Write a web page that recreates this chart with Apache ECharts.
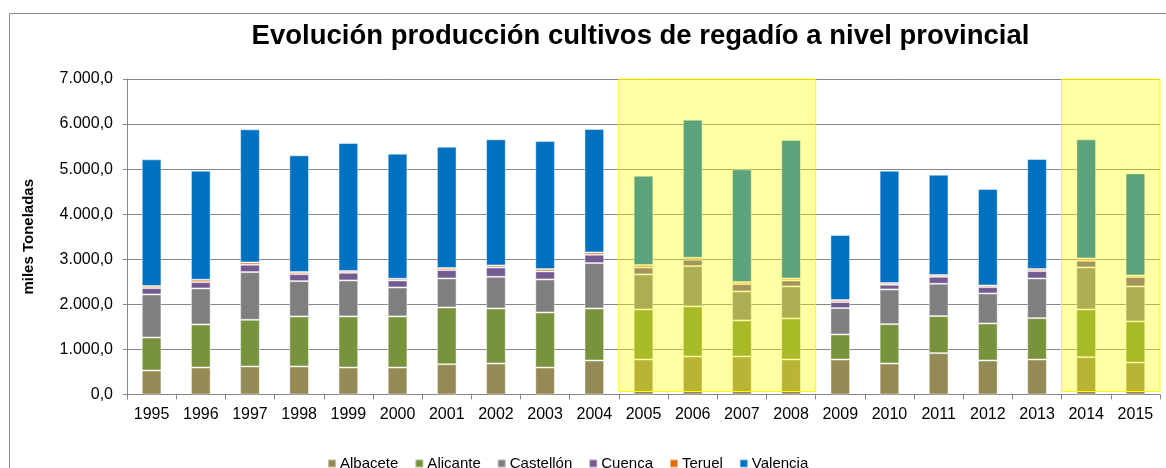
<!DOCTYPE html>
<html>
<head>
<meta charset="utf-8">
<script src="https://cdn.jsdelivr.net/npm/echarts@6/dist/echarts.min.js"></script>
<style>
  html, body { margin: 0; padding: 0; background: #ffffff; }
  #chart { width: 1166px; height: 468px; }
</style>
</head>
<body>
<div id="chart"></div>
<script>
// Years on the category axis
const years = ['1995','1996','1997','1998','1999','2000','2001','2002','2003','2004',
               '2005','2006','2007','2008','2009','2010','2011','2012','2013','2014','2015'];

// Production per province (miles de toneladas)
const albacete  = [533, 599, 622, 622, 599, 599, 673, 688, 599, 755, 777, 844, 844, 777, 777, 688, 918, 755, 777, 829, 710];
const alicante  = [732, 955, 1036, 1110, 1133, 1133, 1258, 1221, 1221, 1154, 1110, 1110, 799, 910, 555, 873, 821, 821, 918, 1058, 911];
const castellon = [955, 799, 1058, 784, 799, 643, 644, 703, 733, 1007, 777, 895, 644, 711, 585, 770, 718, 666, 880, 932, 777];
const cuenca    = [141, 141, 163, 155, 170, 156, 185, 207, 178, 185, 155, 141, 162, 133, 133, 104, 155, 141, 163, 148, 207];
const teruel    = [44, 52, 51, 45, 37, 37, 45, 45, 51, 51, 52, 44, 45, 44, 44, 37, 37, 37, 44, 52, 37];
const valencia  = [2812, 2419, 2953, 2590, 2842, 2775, 2693, 2797, 2842, 2738, 1983, 3064, 2501, 3071, 1443, 2493, 2228, 2138, 2442, 2642, 2264];

// Value axis ticks
const yTicks = [0, 1000, 2000, 3000, 4000, 5000, 6000, 7000];

// Highlighted periods (first year, last year)
const highlights = [['2005', '2008'], ['2014', '2015']];

const seriesNames  = ['Albacete', 'Alicante', 'Castellón', 'Cuenca', 'Teruel', 'Valencia'];
const seriesData   = [albacete, alicante, castellon, cuenca, teruel, valencia];
const seriesColors = ['#948A54', '#77933C', '#7F7F7F', '#735A91', '#E46C0A', '#0070C0'];

const FONT = "'Liberation Sans', Arial, sans-serif";
const yMin = yTicks[0];
const yMax = yTicks[yTicks.length - 1];
const yStep = yTicks[1] - yTicks[0];

// Spanish number format: 7.000,0
function fmtEs(v) {
  const fixed = v.toFixed(1).split('.');
  const int = fixed[0].replace(/\B(?=(\d{3})+(?!\d))/g, '.');
  return int + ',' + fixed[1];
}

const barSeries = seriesNames.map((name, i) => ({
  name: name,
  type: 'bar',
  stack: 'total',
  barWidth: '40%',
  data: seriesData[i],
  itemStyle: {
    color: seriesColors[i],
    borderColor: 'rgba(255,255,255,0.45)',
    borderWidth: 1
  },
  emphasis: { disabled: true },
  z: 2
}));

// Translucent yellow panels laid over the highlighted years
const highlightSeries = {
  type: 'custom',
  name: 'highlight',
  silent: true,
  z: 10,
  encode: { x: [0, 1] },
  data: highlights,
  renderItem: function (params, api) {
    const band = api.size([1, 0])[0];
    const p0 = api.coord([api.value(0), yMax]);
    const p1 = api.coord([api.value(1), yMin]);
    const x = p0[0] - band / 2;
    const w = p1[0] - p0[0] + band;
    const y = p0[1];
    const h = p1[1] - p0[1] - 3;
    return {
      type: 'rect',
      shape: { x: x, y: y, width: w, height: h },
      style: {
        fill: 'rgba(255,255,0,0.36)',
        stroke: '#FFFF00',
        lineWidth: 1
      }
    };
  }
};

const chart = echarts.init(document.getElementById('chart'), null, { renderer: 'canvas' });

chart.setOption({
  animation: false,
  backgroundColor: '#ffffff',
  textStyle: { fontFamily: FONT },
  graphic: [
    {
      type: 'rect',
      silent: true,
      shape: { x: 9.5, y: 13.5, width: 1300, height: 600 },
      style: { fill: 'none', stroke: '#8C8C8C', lineWidth: 1 },
      z: 0
    },
    {
      type: 'text',
      silent: true,
      x: 640.5,
      y: 36,
      style: {
        text: 'Evolución producción cultivos de regadío a nivel provincial',
        fontFamily: FONT,
        fontSize: 27.5,
        fontWeight: 'bold',
        fill: '#000000',
        align: 'center',
        verticalAlign: 'middle'
      }
    }
  ],
  legend: {
    data: seriesNames,
    left: 322,
    top: 451,
    icon: 'rect',
    itemWidth: 8,
    itemHeight: 8,
    itemGap: 16,
    textStyle: { fontFamily: FONT, fontSize: 15, color: '#000000', padding: [0, 0, 0, -1] },
    selectedMode: false
  },
  grid: {
    left: 127,
    right: 6,
    top: 79,
    bottom: 73.5,
    containLabel: false
  },
  xAxis: {
    type: 'category',
    data: years,
    boundaryGap: true,
    axisLine: { show: true, lineStyle: { color: '#868686', width: 1 } },
    axisTick: { show: true, length: 5, alignWithLabel: false, lineStyle: { color: '#868686' } },
    axisLabel: { color: '#000000', fontSize: 16, fontFamily: FONT, margin: 12, interval: 0 },
    splitLine: { show: false }
  },
  yAxis: {
    type: 'value',
    min: yMin,
    max: yMax,
    interval: yStep,
    name: 'miles Toneladas',
    nameLocation: 'middle',
    nameGap: 91,
    nameRotate: 90,
    nameTextStyle: { fontFamily: FONT, fontSize: 15, fontWeight: 'bold', color: '#000000' },
    axisLine: { show: true, lineStyle: { color: '#868686', width: 1 } },
    axisTick: { show: true, length: 4, inside: false, lineStyle: { color: '#868686' } },
    axisLabel: {
      color: '#000000',
      fontSize: 16,
      fontFamily: FONT,
      margin: 14,
      formatter: fmtEs
    },
    splitLine: { show: true, lineStyle: { color: '#868686', width: 1 } }
  },
  series: barSeries.concat([highlightSeries])
});
</script>
</body>
</html>
